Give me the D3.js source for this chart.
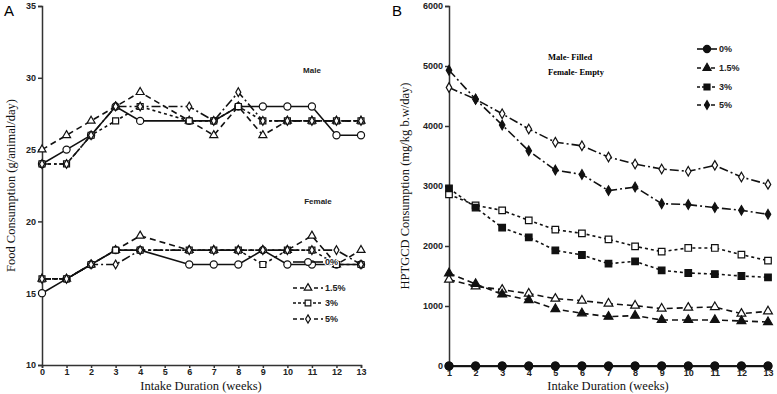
<!DOCTYPE html>
<html>
<head>
<meta charset="utf-8">
<script src="https://cdn.jsdelivr.net/npm/d3@7"></script>
<style>
  body { margin: 0; background: #fff; }
  svg { display: block; }
  .tick text { font-family: "Liberation Sans", Arial, sans-serif; font-weight: bold; font-size: 9px; fill: #222; }
  .domain, .tick line { stroke: #333; stroke-width: 1.5; }
  .title { font-family: "Liberation Serif", "Times New Roman", serif; font-size: 12.5px; font-weight: normal; fill: #111; }
  .lab { font-family: "Liberation Sans", Arial, sans-serif; font-weight: bold; font-size: 8px; fill: #222; }
  .leg { font-family: "Liberation Sans", Arial, sans-serif; font-weight: bold; font-size: 9px; fill: #222;
         paint-order: stroke; stroke: #fff; stroke-width: 2px; }
</style>
</head>
<body>
<div id="container"></div>
<script>
/* CONSTANTS AND GLOBALS */
const width = 777;
const height = 394;

/* DATA */
// panel A: food consumption, week 5 not measured
const weeksA = [0, 1, 2, 3, 4, 6, 7, 8, 9, 10, 11, 12, 13];
const doses = ["0%", "1.5%", "3%", "5%"];
const maleFood = {
  "0%":   [24, 25, 26, 28, 27, 27, 27, 28, 28, 28, 28, 26, 26],
  "1.5%": [25, 26, 27, 28, 29, 27, 26, 28, 26, 27, 27, 27, 27],
  "3%":   [24, 24, 26, 27, 28, 27, 27, 28, 27, 27, 27, 27, 27],
  "5%":   [24, 24, 26, 28, 28, 28, 27, 29, 27, 27, 27, 27, 27]
};
const femaleFood = {
  "0%":   [15, 16, 17, 18, 18, 17, 17, 17, 18, 17, 17, 17, 17],
  "1.5%": [16, 16, 17, 18, 19, 18, 18, 18, 18, 18, 19, 17, 18],
  "3%":   [16, 16, 17, 18, 18, 18, 18, 18, 17, 18, 18, 17, 17],
  "5%":   [16, 16, 17, 17, 18, 18, 18, 18, 18, 18, 18, 18, 17]
};
const ticksA = [10, 15, 20, 25, 30, 35];

// panel B: HPTGCD consumption
const weeksB = [1, 2, 3, 4, 5, 6, 7, 8, 9, 10, 11, 12, 13];
const maleDose = {
  "0%":   [0, 0, 0, 0, 0, 0, 0, 0, 0, 0, 0, 0, 0],
  "1.5%": [1544, 1367, 1194, 1100, 950, 878, 822, 839, 767, 767, 767, 750, 733],
  "3%":   [2960, 2640, 2306, 2144, 1928, 1850, 1705, 1744, 1594, 1550, 1533, 1500, 1478],
  "5%":   [4930, 4447, 4017, 3586, 3265, 3193, 2923, 2983, 2705, 2690, 2640, 2594, 2528]
};
const femaleDose = {
  "0%":   [0, 0, 0, 0, 0, 0, 0, 0, 0, 0, 0, 0, 0],
  "1.5%": [1439, 1328, 1272, 1206, 1122, 1089, 1039, 1006, 956, 972, 983, 872, 911],
  "3%":   [2860, 2678, 2594, 2428, 2272, 2211, 2111, 1994, 1906, 1967, 1967, 1856, 1756],
  "5%":   [4640, 4447, 4204, 3950, 3730, 3670, 3482, 3366, 3283, 3245, 3344, 3150, 3027]
};
const ticksB = [0, 1000, 2000, 3000, 4000, 5000, 6000];

const dashes = { "0%": null, "1.5%": "6,4", "3%": "3,3", "5%": "9,3,2,3" };
const symbols = { "0%": d3.symbolCircle, "1.5%": d3.symbolTriangle, "3%": d3.symbolSquare, "5%": d3.symbolDiamond };
const symSize = { "0%": 40, "1.5%": 28, "3%": 36, "5%": 22 };

const svg = d3.select("#container").append("svg")
  .attr("width", width)
  .attr("height", height);

function drawSeries(g, xs, ys, x, y, dose, filled, scale) {
  const pts = xs.map((w, i) => [w, ys[i]]);
  g.append("path")
    .datum(pts)
    .attr("fill", "none")
    .attr("stroke", "#111")
    .attr("stroke-width", 1.6)
    .attr("stroke-dasharray", dashes[dose])
    .attr("d", d3.line().x(d => x(d[0])).y(d => y(d[1])));
  g.selectAll(null)
    .data(pts)
    .join("path")
    .attr("transform", d => `translate(${x(d[0])},${y(d[1])})`)
    .attr("d", d3.symbol(symbols[dose], symSize[dose] * scale))
    .attr("fill", filled ? "#111" : "#fff")
    .attr("stroke", "#111")
    .attr("stroke-width", 1.2);
}

function legend(g, x0, ysPos, filled, scale, len) {
  doses.forEach((dose, i) => {
    const lg = g.append("g").attr("transform", `translate(${x0},${ysPos[i]})`);
    lg.append("line").attr("x1", 0).attr("x2", len)
      .attr("stroke", "#111").attr("stroke-width", 1.6)
      .attr("stroke-dasharray", dose === "0%" ? null : (dose === "3%" ? "3,2" : "4,3"));
    lg.append("path").attr("transform", `translate(${len / 2},0)`)
      .attr("d", d3.symbol(symbols[dose], symSize[dose] * scale))
      .attr("fill", filled ? "#111" : "#fff").attr("stroke", "#111").attr("stroke-width", 1.2);
    lg.append("text").attr("class", "leg").attr("x", len + 2).attr("dy", "0.35em")
      .text(dose);
  });
}

/* PANEL A */
const xA = d3.scaleLinear().domain([0, 13]).range([42, 361]);
const yA = d3.scaleLinear().domain([10, 35]).range([365, 6]);
const gA = svg.append("g");
gA.append("g").attr("transform", `translate(0,${yA(10)})`)
  .call(d3.axisBottom(xA).tickValues(d3.range(0, 14)).tickFormat(d3.format("d")).tickSize(3).tickPadding(1));
gA.append("g").attr("transform", `translate(${xA(0)},0)`)
  .call(d3.axisLeft(yA).tickValues(ticksA).tickSize(4).tickPadding(2));
doses.forEach(dose => drawSeries(gA, weeksA, maleFood[dose], xA, yA, dose, false, 1));
doses.forEach(dose => drawSeries(gA, weeksA, femaleFood[dose], xA, yA, dose, false, 1));
legend(gA, 293, [262, 288, 303, 319], false, 0.9, 30);
gA.append("text").attr("class", "lab").attr("x", 312).attr("y", 73).attr("text-anchor", "middle").text("Male");
gA.append("text").attr("class", "lab").attr("x", 318).attr("y", 204).attr("text-anchor", "middle").text("Female");
gA.append("text").attr("class", "title").attr("x", 201).attr("y", 390).attr("text-anchor", "middle")
  .text("Intake Duration (weeks)");
gA.append("text").attr("class", "title")
  .attr("transform", `translate(15,${(yA(10) + yA(35)) / 2}) rotate(-90)`)
  .attr("text-anchor", "middle")
  .text("Food Consumption (g/animal/day)");
gA.append("text").attr("x", 4).attr("y", 16)
  .style("font-family", "'Liberation Sans', Arial, sans-serif").style("font-size", "15px")
  .text("A");

/* PANEL B */
const xB = d3.scaleLinear().domain([1, 13]).range([449, 768]);
const yB = d3.scaleLinear().domain([0, 6000]).range([366, 6]);
const gB = svg.append("g");
gB.append("g").attr("transform", `translate(0,${yB(0)})`)
  .call(d3.axisBottom(xB).tickValues(weeksB).tickFormat(d3.format("d")).tickSize(3).tickPadding(1));
gB.append("g").attr("transform", `translate(${xB(1)},0)`)
  .call(d3.axisLeft(yB).tickValues(ticksB).tickFormat(d3.format("d")).tickSize(4).tickPadding(2));
doses.forEach(dose => drawSeries(gB, weeksB, femaleDose[dose], xB, yB, dose, false, 1.2));
doses.forEach(dose => drawSeries(gB, weeksB, maleDose[dose], xB, yB, dose, true, 1.2));
legend(gB, 697, [49, 68, 87, 105], true, 1, 20);
gB.append("text").attr("x", 548).attr("y", 60)
  .style("font-family", "'Liberation Serif', serif").style("font-weight", "bold").style("font-size", "8.5px")
  .text("Male- Filled");
gB.append("text").attr("x", 548).attr("y", 75)
  .style("font-family", "'Liberation Serif', serif").style("font-weight", "bold").style("font-size", "8.5px")
  .text("Female- Empty");
gB.append("text").attr("class", "title").attr("x", 608).attr("y", 390).attr("text-anchor", "middle")
  .text("Intake Duration (weeks)");
gB.append("text").attr("class", "title")
  .attr("transform", `translate(409,${(yB(0) + yB(6000)) / 2}) rotate(-90)`)
  .attr("text-anchor", "middle")
  .text("HPTGCD Consumption (mg/kg b.w/day)");
gB.append("text").attr("x", 392).attr("y", 16)
  .style("font-family", "'Liberation Sans', Arial, sans-serif").style("font-size", "15px")
  .text("B");
</script>
</body>
</html>
